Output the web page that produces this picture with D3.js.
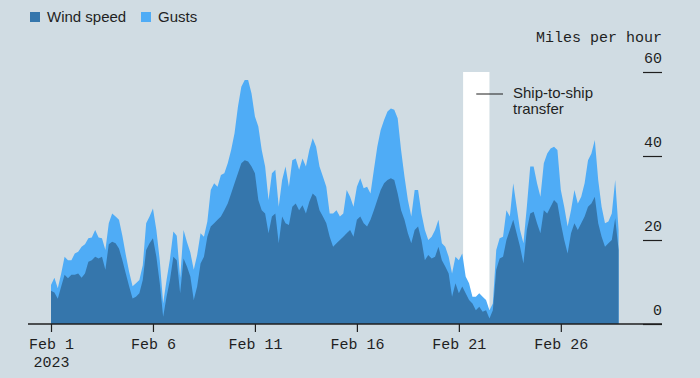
<!DOCTYPE html>
<html>
<head>
<meta charset="utf-8">
<script src="https://cdn.jsdelivr.net/npm/d3@7"></script>
<style>
  body { margin: 0; background: #d0dce3; }
  svg { display: block; }
  .tick text { font-family: "Liberation Mono", "DejaVu Sans Mono", monospace; font-size: 15px; fill: #1f1f1f; }
</style>
</head>
<body>
<script>
var width = 700,
    height = 378;

// observations every 4 hours starting Feb 1 2023 00:00
var startDate = new Date(2023, 1, 1),
    stepHours = 4;

var windSpeed = [
  7.9, 7.5, 6, 8.9, 11.7, 10.9, 11.7, 11.7, 12, 11, 12, 14.8, 15.2, 16, 15.6, 16, 12.9, 19, 19.6, 19.2, 18,
  15.2, 12, 8.9, 6.1, 6.5, 7.3, 10.5, 17.6, 19.2, 20.4, 16, 9.7, 1.7, 6.5, 10.5, 16, 15.2, 7.3, 15.6, 13.7, 11.3,
  5.7, 8.9, 14.4, 16, 20.8, 23.2, 24, 24.8, 25.6, 27.1, 28.7, 31.1, 33.5, 35.9, 38.3, 39, 38.7, 37.5, 35.9, 29.5, 27.1,
  26.3, 21.6, 25.6, 26.3, 19.2, 25.6, 24, 23.6, 27.9, 28.7, 27.1, 28.3, 26.3, 29.1, 31.1, 30.3, 27.1, 25.6, 24, 20.8, 18.4,
  19.2, 20, 20.8, 21.6, 22.4, 20.8, 24.8, 25.6, 24, 23.2, 24.8, 27.1, 29.5, 31.9, 33.5, 34.3, 34.7, 34.3, 31.1, 27.1,
  24.8, 21.6, 19.2, 22.4, 23.2, 20, 15.2, 16.4, 15.6, 16, 18.4, 15.2, 13.7, 12, 6.5, 9.7, 7.3, 8.9, 7.3, 5.7, 4.9,
  3.3, 4.1, 2.9, 3.3, 1.3, 3.3, 12.9, 15.6, 16, 20, 22.4, 24.8, 21.6, 18.4, 14.4, 22.4, 26.3, 26.7, 24, 21.6, 27.1,
  26.3, 27.9, 29.5, 28.7, 24, 20, 16.8, 21.6, 24, 22.4, 24, 25.6, 27.9, 28.7, 30.3, 24, 20.8, 18.4, 19.2, 20, 25.2, 17.6
];

var gusts = [
  9.3, 11, 8.5, 12, 16, 15.2, 15.2, 16.8, 17.2, 18.4, 19, 20.4, 20.6, 22.4, 20.6, 20.4, 17.6, 24, 26.3, 25.6, 24.8,
  21, 16.5, 12.4, 9, 9.7, 10.5, 14, 24, 25.6, 27.5, 22.4, 15.2, 4.9, 10.5, 15.5, 22, 21, 11, 22.4, 19.5, 17,
  12.9, 16.4, 21.6, 20.8, 24.4, 31.9, 33.5, 32.7, 35.5, 35.9, 38.3, 41.4, 45.4, 51.7, 56.5, 58.1, 58.1, 54.9, 49.4, 47, 41.4,
  37.5, 29.5, 35.9, 36.7, 27.9, 34.3, 37.5, 32.7, 39, 39.4, 36.7, 39.4, 37.5, 41.4, 44.2, 42.2, 37.5, 35.1, 32.7, 26.3, 26.3,
  27.1, 25.6, 26.3, 31.9, 30.3, 27.9, 32.7, 34.7, 32.3, 32.7, 31.1, 36.7, 42.2, 46.2, 48.6, 50.6, 51.3, 51, 49, 41.4,
  35.1, 29.5, 25.6, 31.9, 31.9, 26.3, 22.4, 20, 20.8, 22.4, 24.8, 19.2, 18.4, 16, 12, 16, 15.2, 16.8, 11.3, 9.7, 6.5,
  6.5, 7.3, 6.5, 5.7, 3.3, 4.9, 17.6, 20.4, 20.8, 27.1, 25.6, 33.5, 27.9, 22.4, 19.2, 27.9, 37.5, 37.5, 33.5, 30.3, 38.3,
  40.6, 41.8, 42.2, 41.4, 31.9, 27.9, 23.2, 27.1, 31.9, 28.7, 30.3, 33.5, 39, 40.6, 43.8, 34.3, 27.9, 24, 24.4, 26.3, 34.3, 22.4
];

var xTicks = [new Date(2023, 1, 1), new Date(2023, 1, 6), new Date(2023, 1, 11),
              new Date(2023, 1, 16), new Date(2023, 1, 21), new Date(2023, 1, 26)];
var yTicks = [0, 20, 40, 60];

var transferStart = new Date(2023, 1, 21, 5),
    transferEnd = new Date(2023, 1, 22, 12),
    transferLabel = ["Ship-to-ship", "transfer"];

var legendItems = [
  {name: "Wind speed", color: "#3576ac"},
  {name: "Gusts", color: "#4facf6"}
];

var dataset = windSpeed.map(function(w, i) {
  return {
    date: d3.timeHour.offset(startDate, i * stepHours),
    wind: w,
    gust: gusts[i]
  };
});

var xScale = d3.scaleTime()
  .domain([new Date(2023, 1, 1), new Date(2023, 2, 1)])
  .range([51, 622]);

var yScale = d3.scaleLinear()
  .domain([0, 60])
  .range([324, 72]);

var svg = d3.select("body")
  .append("svg")
  .attr("width", width)
  .attr("height", height);

// shaded transfer window
svg.append("rect")
  .attr("x", xScale(transferStart))
  .attr("y", yScale(60))
  .attr("width", xScale(transferEnd) - xScale(transferStart))
  .attr("height", yScale(0) - yScale(60))
  .attr("fill", "#ffffff");

var gustArea = d3.area()
  .x(function(d) { return xScale(d.date); })
  .y0(yScale(0))
  .y1(function(d) { return yScale(d.gust); });

var windArea = d3.area()
  .x(function(d) { return xScale(d.date); })
  .y0(yScale(0))
  .y1(function(d) { return yScale(d.wind); });

svg.append("path")
  .datum(dataset)
  .attr("d", gustArea)
  .attr("fill", legendItems[1].color);

svg.append("path")
  .datum(dataset)
  .attr("d", windArea)
  .attr("fill", legendItems[0].color);

// annotation
var midX = (xScale(transferStart) + xScale(transferEnd)) / 2;
svg.append("line")
  .attr("x1", midX)
  .attr("x2", 503)
  .attr("y1", 94)
  .attr("y2", 94)
  .attr("stroke", "#1f1f1f")
  .attr("stroke-width", 1);

svg.append("text")
  .attr("x", 513)
  .attr("y", 98)
  .style("font-family", "'Liberation Sans', Arial, sans-serif")
  .style("font-size", "15px")
  .attr("fill", "#1f1f1f")
  .selectAll("tspan")
  .data(transferLabel)
  .enter()
  .append("tspan")
  .attr("x", 513)
  .attr("dy", function(d, i) { return i === 0 ? 0 : 16; })
  .text(function(d) { return d; });

// x axis
svg.append("line")
  .attr("x1", 28)
  .attr("x2", 662)
  .attr("y1", yScale(0))
  .attr("y2", yScale(0))
  .attr("stroke", "#1f1f1f")
  .attr("stroke-width", 1.5);

var xAxis = svg.append("g")
  .attr("transform", "translate(0," + yScale(0) + ")")
  .call(d3.axisBottom(xScale)
    .tickValues(xTicks)
    .tickSize(8)
    .tickPadding(6)
    .tickFormat(d3.timeFormat("Feb %-d")));
xAxis.select(".domain").remove();
xAxis.selectAll(".tick line").attr("stroke", "#1f1f1f").attr("stroke-width", 1.2);
xAxis.selectAll(".tick")
  .filter(function(d, i) { return i === 0; })
  .select("text")
  .append("tspan")
  .attr("x", 0)
  .attr("dy", "1.2em")
  .text("2023");

// y axis on the right
var yAxis = svg.append("g")
  .attr("transform", "translate(662,0)")
  .call(d3.axisLeft(yScale)
    .tickValues(yTicks)
    .tickSize(19));
yAxis.select(".domain").remove();
yAxis.selectAll(".tick line").attr("stroke", "#1f1f1f").attr("stroke-width", 1.2);
yAxis.selectAll(".tick text")
  .attr("x", 0)
  .attr("dy", -10)
  .style("text-anchor", "end");

svg.append("text")
  .attr("x", 662)
  .attr("y", 42)
  .attr("text-anchor", "end")
  .style("font-family", "'Liberation Mono', 'DejaVu Sans Mono', monospace")
  .style("font-size", "15px")
  .attr("fill", "#1f1f1f")
  .text("Miles per hour");

// legend
var legend = svg.selectAll(".legend")
  .data(legendItems)
  .enter()
  .append("g")
  .attr("class", "legend")
  .attr("transform", function(d, i) { return "translate(" + (i === 0 ? 30 : 141) + ",12)"; });

legend.append("rect")
  .attr("width", 10)
  .attr("height", 10)
  .attr("fill", function(d) { return d.color; });

legend.append("text")
  .attr("x", 17)
  .attr("y", 10)
  .style("font-family", "'Liberation Sans', Arial, sans-serif")
  .style("font-size", "15px")
  .attr("fill", "#1f1f1f")
  .text(function(d) { return d.name; });
</script>
</body>
</html>
